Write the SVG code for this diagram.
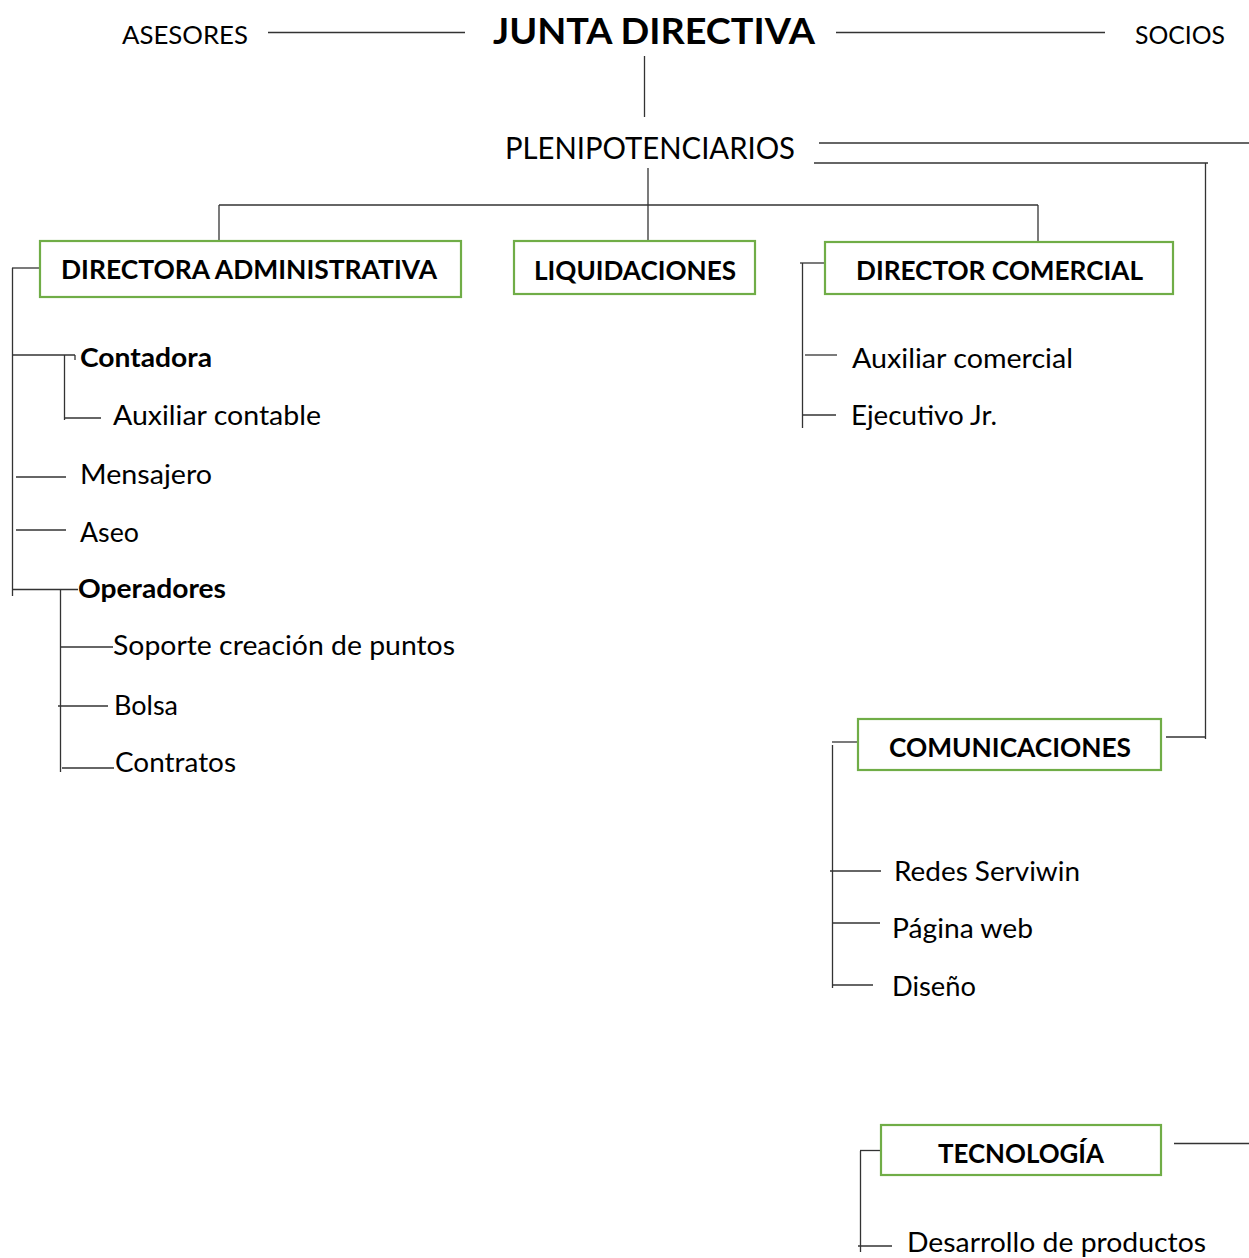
<svg xmlns="http://www.w3.org/2000/svg" width="1249" height="1258" viewBox="0 0 1249 1258">
<style>
  text { font-family: Lato, "Open Sans", "Liberation Sans", sans-serif; fill: #000; }
  .r { font-size: 27px; font-weight: 400; }
  .b { font-size: 27px; font-weight: 700; }
  .top { font-size: 25px; font-weight: 400; }
  .title { font-size: 37px; font-weight: 700; }
  .pleni { font-size: 30px; font-weight: 400; }
  .box { fill: #fff; stroke: #70AD47; stroke-width: 2.2; }
  .c line { stroke: #333; stroke-width: 1.3; }
</style>
<rect width="1249" height="1258" fill="#fff"/>
<g id="connectors" class="c">
  <line x1="268" y1="32.5" x2="465" y2="32.5"/>
  <line x1="836" y1="32.5" x2="1105" y2="32.5"/>
  <line x1="644.5" y1="56" x2="644.5" y2="117"/>
  <line x1="819" y1="143" x2="1249" y2="143"/>
  <line x1="814" y1="163" x2="1208" y2="163"/>
  <line x1="1205.5" y1="163" x2="1205.5" y2="739"/>
  <line x1="1166" y1="737" x2="1205.5" y2="737"/>
  <line x1="648" y1="168" x2="648" y2="244"/>
  <line x1="219" y1="205" x2="1038" y2="205"/>
  <line x1="219" y1="205" x2="219" y2="242"/>
  <line x1="1038" y1="205" x2="1038" y2="241"/>
  <line x1="12.5" y1="268" x2="12.5" y2="596"/>
  <line x1="12" y1="268" x2="40" y2="268"/>
  <line x1="12" y1="355" x2="75" y2="355"/>
  <line x1="75" y1="355" x2="75" y2="360"/>
  <line x1="64.5" y1="355" x2="64.5" y2="420"/>
  <line x1="64" y1="418" x2="101" y2="418"/>
  <line x1="16" y1="477" x2="66" y2="477"/>
  <line x1="16" y1="530" x2="66" y2="530"/>
  <line x1="12" y1="589.5" x2="78" y2="589.5"/>
  <line x1="60.5" y1="589" x2="60.5" y2="772"/>
  <line x1="60" y1="647" x2="113" y2="647"/>
  <line x1="58" y1="706" x2="108" y2="706"/>
  <line x1="62" y1="768" x2="114" y2="768"/>
  <line x1="800" y1="263" x2="828" y2="263"/>
  <line x1="802.5" y1="263" x2="802.5" y2="428"/>
  <line x1="805" y1="355" x2="837" y2="355"/>
  <line x1="803" y1="415" x2="836" y2="415"/>
  <line x1="832" y1="742" x2="858" y2="742"/>
  <line x1="832.5" y1="745" x2="832.5" y2="988"/>
  <line x1="830" y1="871" x2="881" y2="871"/>
  <line x1="832" y1="923" x2="880" y2="923"/>
  <line x1="832" y1="985" x2="873" y2="985"/>
  <line x1="860" y1="1150.5" x2="880" y2="1150.5"/>
  <line x1="860.5" y1="1151" x2="860.5" y2="1252"/>
  <line x1="858" y1="1246" x2="892" y2="1246"/>
  <line x1="1174" y1="1143.5" x2="1249" y2="1143.5"/>
</g>
<g id="asesores"><text class="top" x="122" y="44" textLength="126" lengthAdjust="spacingAndGlyphs">ASESORES</text></g>
<g id="junta"><text class="title" x="493" y="44" textLength="322" lengthAdjust="spacingAndGlyphs">JUNTA DIRECTIVA</text></g>
<g id="socios"><text class="top" x="1135" y="44" textLength="90" lengthAdjust="spacingAndGlyphs">SOCIOS</text></g>
<g id="plenipotenciarios"><text class="pleni" x="505" y="159" textLength="290" lengthAdjust="spacingAndGlyphs">PLENIPOTENCIARIOS</text></g>
<g id="directora">
  <rect class="box" x="40" y="241" width="421" height="56"/>
  <text class="b" x="61" y="279" textLength="376" lengthAdjust="spacingAndGlyphs">DIRECTORA ADMINISTRATIVA</text>
</g>
<g id="liquidaciones">
  <rect class="box" x="514" y="241" width="241" height="53"/>
  <text class="b" x="534" y="280" textLength="202" lengthAdjust="spacingAndGlyphs">LIQUIDACIONES</text>
</g>
<g id="director-comercial">
  <rect class="box" x="825" y="242" width="348" height="52"/>
  <text class="b" x="856" y="280" textLength="287" lengthAdjust="spacingAndGlyphs">DIRECTOR COMERCIAL</text>
</g>
<g id="contadora"><text class="b" x="80" y="367" textLength="132" lengthAdjust="spacingAndGlyphs">Contadora</text></g>
<g id="auxiliar-contable"><text class="r" x="113" y="425" textLength="208" lengthAdjust="spacingAndGlyphs">Auxiliar contable</text></g>
<g id="mensajero"><text class="r" x="80" y="484" textLength="132" lengthAdjust="spacingAndGlyphs">Mensajero</text></g>
<g id="aseo"><text class="r" x="80" y="542" textLength="59" lengthAdjust="spacingAndGlyphs">Aseo</text></g>
<g id="operadores"><text class="b" x="78" y="598" textLength="148" lengthAdjust="spacingAndGlyphs">Operadores</text></g>
<g id="soporte"><text class="r" x="113" y="655" textLength="342" lengthAdjust="spacingAndGlyphs">Soporte creación de puntos</text></g>
<g id="bolsa"><text class="r" x="114" y="715" textLength="64" lengthAdjust="spacingAndGlyphs">Bolsa</text></g>
<g id="contratos"><text class="r" x="115" y="772" textLength="121" lengthAdjust="spacingAndGlyphs">Contratos</text></g>
<g id="auxiliar-comercial"><text class="r" x="852" y="368" textLength="221" lengthAdjust="spacingAndGlyphs">Auxiliar comercial</text></g>
<g id="ejecutivo"><text class="r" x="851" y="425" textLength="146" lengthAdjust="spacingAndGlyphs">Ejecutivo Jr.</text></g>
<g id="comunicaciones">
  <rect class="box" x="858" y="719" width="303" height="51"/>
  <text class="b" x="889" y="757" textLength="242" lengthAdjust="spacingAndGlyphs">COMUNICACIONES</text>
</g>
<g id="redes"><text class="r" x="894" y="881" textLength="186" lengthAdjust="spacingAndGlyphs">Redes Serviwin</text></g>
<g id="pagina-web"><text class="r" x="892" y="938" textLength="141" lengthAdjust="spacingAndGlyphs">Página web</text></g>
<g id="diseno"><text class="r" x="892" y="996" textLength="84" lengthAdjust="spacingAndGlyphs">Diseño</text></g>
<g id="tecnologia">
  <rect class="box" x="881" y="1125" width="280" height="50"/>
  <text class="b" x="938" y="1163" textLength="166" lengthAdjust="spacingAndGlyphs">TECNOLOGÍA</text>
</g>
<g id="desarrollo"><text class="r" x="907" y="1252" textLength="299" lengthAdjust="spacingAndGlyphs">Desarrollo de productos</text></g>
</svg>
